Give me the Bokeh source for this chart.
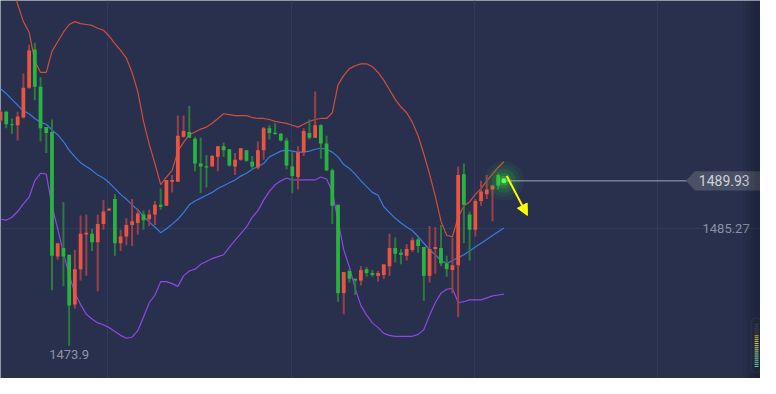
import numpy as np
from bokeh.plotting import figure
from bokeh.models import Range1d, FixedTicker, Arrow, NormalHead, BoxAnnotation
from bokeh.core.properties import value
from bokeh.embed import file_html
from bokeh.resources import INLINE

# ---------------- data ----------------
opens = [1495.80, 1496.64, 1495.43, 1495.33, 1496.08, 1498.97, 1502.70, 1499.06, 1495.15, 1494.68,
         1482.57, 1483.40, 1482.75, 1477.91, 1481.35, 1484.71, 1484.80, 1483.96, 1485.73, 1487.04,
         1488.16, 1483.87, 1484.52, 1485.64, 1485.83, 1486.67, 1486.20, 1486.67, 1487.60, 1487.51,
         1489.84, 1489.84, 1494.22, 1494.68, 1494.03, 1491.61, 1491.33, 1491.33, 1492.26, 1493.28,
         1493.00, 1491.33, 1491.98, 1492.91, 1491.79, 1491.23, 1492.91, 1495.05, 1494.59, 1494.50,
         1493.84, 1491.33, 1490.30, 1492.72, 1494.59, 1494.12, 1495.33, 1493.56, 1490.95, 1487.60,
         1479.02, 1481.17, 1480.42, 1480.24, 1481.35, 1480.98, 1480.70, 1480.79, 1481.63, 1483.40,
         1482.94, 1482.66, 1483.22, 1484.24, 1483.50, 1480.70, 1483.31, 1483.40, 1481.91, 1481.26,
         1481.73, 1490.58, 1486.67, 1485.18, 1487.97, 1488.62, 1489.09, 1490.49, 1490.05]
highs = [1496.83, 1496.73, 1495.99, 1496.64, 1500.37, 1503.16, 1503.35, 1499.99, 1495.15, 1495.89,
         1483.87, 1487.88, 1482.75, 1483.22, 1486.57, 1486.67, 1485.27, 1486.67, 1488.06, 1487.32,
         1488.62, 1485.18, 1486.29, 1488.16, 1487.23, 1487.04, 1487.13, 1487.97, 1489.18, 1490.02,
         1490.49, 1496.27, 1496.27, 1497.20, 1494.22, 1494.12, 1492.44, 1492.44, 1493.28, 1493.66,
         1493.00, 1492.63, 1493.10, 1492.91, 1492.35, 1493.75, 1495.15, 1495.33, 1495.52, 1494.59,
         1494.12, 1492.72, 1493.28, 1495.05, 1495.89, 1498.60, 1495.43, 1494.31, 1491.14, 1487.60,
         1481.07, 1481.35, 1480.42, 1481.63, 1481.54, 1481.26, 1481.17, 1481.82, 1484.80, 1484.43,
         1483.31, 1483.78, 1484.43, 1484.43, 1483.50, 1485.55, 1485.45, 1485.64, 1482.66, 1484.43,
         1491.33, 1491.61, 1486.95, 1488.16, 1489.93, 1490.49, 1489.56, 1490.67, 1490.12]
lows = [1495.61, 1495.05, 1494.50, 1493.84, 1495.99, 1498.88, 1497.76, 1493.75, 1492.63, 1479.30,
        1482.29, 1479.68, 1473.90, 1477.53, 1480.24, 1480.70, 1483.12, 1479.21, 1485.18, 1487.04,
        1482.66, 1483.12, 1483.68, 1483.59, 1484.71, 1485.18, 1485.55, 1485.64, 1487.13, 1487.51,
        1488.81, 1489.84, 1494.12, 1494.12, 1490.86, 1488.72, 1489.28, 1491.33, 1490.86, 1492.26,
        1491.33, 1490.49, 1491.89, 1491.79, 1490.95, 1491.05, 1491.98, 1493.94, 1494.40, 1493.75,
        1491.05, 1488.72, 1489.09, 1492.35, 1493.94, 1494.12, 1492.07, 1490.86, 1485.73, 1478.19,
        1476.97, 1480.05, 1478.84, 1479.77, 1480.61, 1480.61, 1480.14, 1480.42, 1480.70, 1482.01,
        1481.82, 1482.19, 1483.03, 1482.94, 1478.28, 1480.05, 1480.89, 1481.63, 1480.61, 1479.02,
        1476.69, 1483.87, 1482.19, 1484.52, 1487.51, 1488.16, 1486.01, 1489.09, 1489.84]
closes = [1496.64, 1495.43, 1495.33, 1496.17, 1498.97, 1502.60, 1499.06, 1495.05, 1494.59, 1482.66,
          1483.87, 1482.57, 1477.81, 1481.35, 1484.80, 1484.90, 1483.96, 1485.73, 1486.95, 1487.23,
          1483.87, 1484.52, 1485.64, 1486.01, 1486.76, 1486.11, 1486.67, 1487.60, 1487.41, 1490.02,
          1490.02, 1494.31, 1494.77, 1494.12, 1491.61, 1491.33, 1491.23, 1492.35, 1493.28, 1492.91,
          1491.42, 1491.98, 1493.10, 1491.89, 1491.33, 1492.91, 1495.05, 1494.59, 1494.50, 1493.84,
          1491.42, 1490.39, 1492.72, 1494.77, 1494.12, 1495.33, 1493.56, 1490.95, 1487.51, 1479.02,
          1481.07, 1480.42, 1480.24, 1481.26, 1480.98, 1480.79, 1480.98, 1481.82, 1483.40, 1482.85,
          1482.75, 1483.31, 1484.15, 1483.59, 1480.70, 1483.31, 1483.50, 1481.91, 1481.35, 1481.73,
          1490.49, 1487.60, 1485.18, 1487.97, 1488.90, 1489.09, 1489.46, 1489.46, 1489.93]

upper = [1512.58, 1510.99, 1509.13, 1507.08, 1505.40, 1504.37, 1501.58, 1500.46, 1500.46, 1502.51,
         1503.44, 1504.37, 1505.12, 1505.40, 1505.21, 1505.12, 1505.03, 1504.75, 1504.56, 1504.00,
         1503.26, 1502.60, 1501.86, 1500.46, 1498.60, 1495.71, 1493.47, 1491.61, 1489.56, 1490.30,
         1490.95, 1492.82, 1493.66, 1494.40, 1494.68, 1494.96, 1495.15, 1495.52, 1495.99, 1496.45,
         1496.36, 1496.27, 1496.27, 1496.27, 1496.08, 1495.99, 1495.99, 1495.89, 1495.71, 1495.61,
         1495.52, 1495.33, 1495.15, 1495.43, 1495.71, 1495.89, 1495.99, 1495.99, 1496.55, 1499.25,
         1500.18, 1500.83, 1501.11, 1501.30, 1501.30, 1501.02, 1500.46, 1499.71, 1498.78, 1497.85,
         1497.10, 1496.55, 1495.61, 1494.31, 1492.54, 1490.58, 1488.44, 1486.01, 1484.62, 1484.52,
         1486.39, 1487.51, 1487.88, 1488.62, 1489.18, 1489.93, 1490.58, 1491.23, 1491.79]
middle = [1498.88, 1498.41, 1497.85, 1497.29, 1496.73, 1496.45, 1495.99, 1495.61, 1495.43, 1494.87,
          1494.40, 1493.75, 1492.91, 1492.26, 1491.70, 1491.33, 1490.95, 1490.49, 1490.21, 1489.74,
          1489.18, 1488.62, 1488.16, 1487.60, 1487.13, 1486.48, 1485.92, 1485.45, 1484.90, 1485.27,
          1485.73, 1486.20, 1486.85, 1487.60, 1487.97, 1488.25, 1488.53, 1488.81, 1489.18, 1489.46,
          1489.74, 1490.02, 1490.39, 1490.67, 1491.05, 1491.33, 1491.61, 1492.26, 1492.54, 1492.82,
          1492.91, 1492.82, 1492.72, 1492.72, 1492.82, 1493.00, 1493.10, 1493.00, 1492.72, 1492.26,
          1491.51, 1491.14, 1490.58, 1489.93, 1489.37, 1488.81, 1488.53, 1487.41, 1486.85, 1486.29,
          1485.83, 1485.45, 1485.08, 1484.52, 1483.87, 1483.22, 1482.75, 1482.19, 1481.91, 1482.19,
          1482.47, 1482.75, 1483.12, 1483.50, 1483.87, 1484.24, 1484.62, 1484.99, 1485.36]
lower = [1486.20, 1486.11, 1486.39, 1486.95, 1487.69, 1488.34, 1489.93, 1490.67, 1490.58, 1487.51,
         1485.27, 1482.94, 1480.79, 1479.02, 1477.91, 1476.97, 1476.51, 1476.13, 1475.95, 1475.67,
         1475.30, 1474.92, 1474.64, 1474.74, 1475.39, 1476.69, 1478.09, 1478.84, 1480.14, 1480.14,
         1479.95, 1479.68, 1480.70, 1481.17, 1481.35, 1481.82, 1482.10, 1482.38, 1482.57, 1482.75,
         1483.50, 1484.15, 1484.80, 1485.45, 1486.39, 1487.04, 1488.06, 1488.90, 1489.56, 1489.93,
         1490.21, 1490.02, 1490.02, 1490.02, 1490.02, 1490.02, 1490.30, 1490.11, 1488.90, 1486.01,
         1483.22, 1481.54, 1479.49, 1477.81, 1476.88, 1476.13, 1475.67, 1475.11, 1474.92, 1474.83,
         1474.83, 1474.83, 1474.83, 1475.02, 1475.48, 1476.88, 1478.09, 1479.02, 1479.40, 1479.49,
         1478.09, 1478.19, 1478.37, 1478.37, 1478.37, 1478.56, 1478.75, 1478.84, 1478.93]

grid_price = [1485.27]
grid_x = [18.66, 50.85, 82.86, 114.9]

# ---------------- layout helpers (decorations only) ----------------
X_END = 132.85
Y_LO, Y_HI = 1470.73, 1507.45
def px(x):   # reference pixel -> x data
    return x / 776.0 * X_END
def py(y):   # reference pixel -> y data
    return Y_HI - y / 394.0 * (Y_HI - Y_LO)
PX = X_END / 776.0
PY = (Y_HI - Y_LO) / 394.0

BG = "#28304d"
p = figure(width=760, height=378, output_backend="svg", toolbar_location=None,
           x_range=Range1d(0, X_END), y_range=Range1d(Y_LO, Y_HI),
           background_fill_color=BG, border_fill_color=BG, min_border=0)
p.xaxis.visible = False
p.yaxis.visible = False
p.outline_line_color = None
p.xgrid.ticker = FixedTicker(ticks=grid_x)
p.ygrid.ticker = FixedTicker(ticks=grid_price)
p.xgrid.grid_line_color = "#323a5a"
p.ygrid.grid_line_color = "#323a5a"

# right edge shade
for k, a in enumerate([0.05, 0.05, 0.06, 0.07]):
    p.add_layout(BoxAnnotation(left=px(758 + 4 * k), right=X_END, fill_color="black",
                               fill_alpha=a, line_color=None))

idx = np.arange(len(opens))
o = np.array(opens); c = np.array(closes); h = np.array(highs); l = np.array(lows)
up = c >= o
body_col = np.where(up, "#ec5442", "#2ab43f")
wick_col = np.where(up, "#9a4048", "#2c7b3d")
top = np.maximum(o, c)
bot = np.minimum(o, c)
mn = 0.12
small = (top - bot) < mn
mid = (top + bot) / 2
top = np.where(small, mid + mn / 2, top)
bot = np.where(small, mid - mn / 2, bot)

# bands
p.line(idx, upper, line_color="#d24d3b", line_width=1.2)
p.line(idx, middle, line_color="#3a7be2", line_width=1.2)
p.line(idx, lower, line_color="#9146e6", line_width=1.2)

# candles
p.segment(x0=idx, y0=l, x1=idx, y1=h, line_color=list(wick_col), line_width=2)
p.vbar(x=idx, width=0.66, top=top, bottom=bot, fill_color=list(body_col), line_color=None)

# glow on last candle
last_i = idx[-1]
last = closes[-1]
for s, a in [(40, 0.06), (32, 0.08), (24, 0.12), (16, 0.18), (10, 0.3)]:
    p.scatter([last_i], [last], size=s, fill_color="#36e03a", fill_alpha=a, line_color=None)
p.scatter([last_i], [last], size=5, fill_color="#5cff5c", line_color=None)

# current price line and tag
p.segment(x0=[last_i + 0.5], y0=[last], x1=[px(702)], y1=[last], line_color="#a3a9ba", line_width=1)
p.patch(x=[px(700), px(709), X_END, X_END, px(709)],
        y=[last, last + 10 * PY, last + 10 * PY, last - 10 * PY, last - 10 * PY],
        fill_color="#4a5167", line_color=None)
p.text(x=[px(765)], y=[last], text=[f"{last:.2f}"], text_align="right", text_baseline="middle",
       text_color="#cfd2da", text_font=value("Roboto"), text_font_size="14px")

# grid price label
p.text(x=[px(765)], y=grid_price, text=[f"{grid_price[0]:.2f}"], text_align="right",
       text_baseline="middle", text_color="#8a90a5", text_font=value("Roboto"), text_font_size="13px")

# minimum label
imin = int(np.argmin(l))
p.text(x=[imin], y=[l[imin]], text=[f"{l[imin]:.1f}"], text_align="center", text_baseline="top",
       y_offset=4, text_color="#8e94a7", text_font=value("Roboto"), text_font_size="13px")

# yellow arrow
p.add_layout(Arrow(end=NormalHead(size=11, fill_color="#ffff00", line_color="#ffff00"),
                   x_start=last_i + 0.5, y_start=py(183), x_end=px(538), y_end=py(224),
                   line_color="#ffff00", line_width=2))

# scrollbar widget (decoration)
p.add_layout(BoxAnnotation(left=px(767), right=X_END, top=py(331), bottom=py(388),
                           fill_color="#252a3a", line_color="#444a5c", line_width=1, border_radius=3))
bar_cols = ["#3b4150"] * 6 + ["#e2ad48"] * 2 + ["#d7c850"] * 4 + ["#b9d468"] * 3 + ["#8fd58c"] * 4 + ["#62cdb8"] * 4
for k, col in enumerate(bar_cols):
    yy = 337 + 2 * k
    p.add_layout(BoxAnnotation(left=px(770), right=px(774), top=py(yy), bottom=py(yy + 1),
                               fill_color=col, fill_alpha=1, line_color=None))

open("out.html", "w").write(file_html(p, INLINE))
